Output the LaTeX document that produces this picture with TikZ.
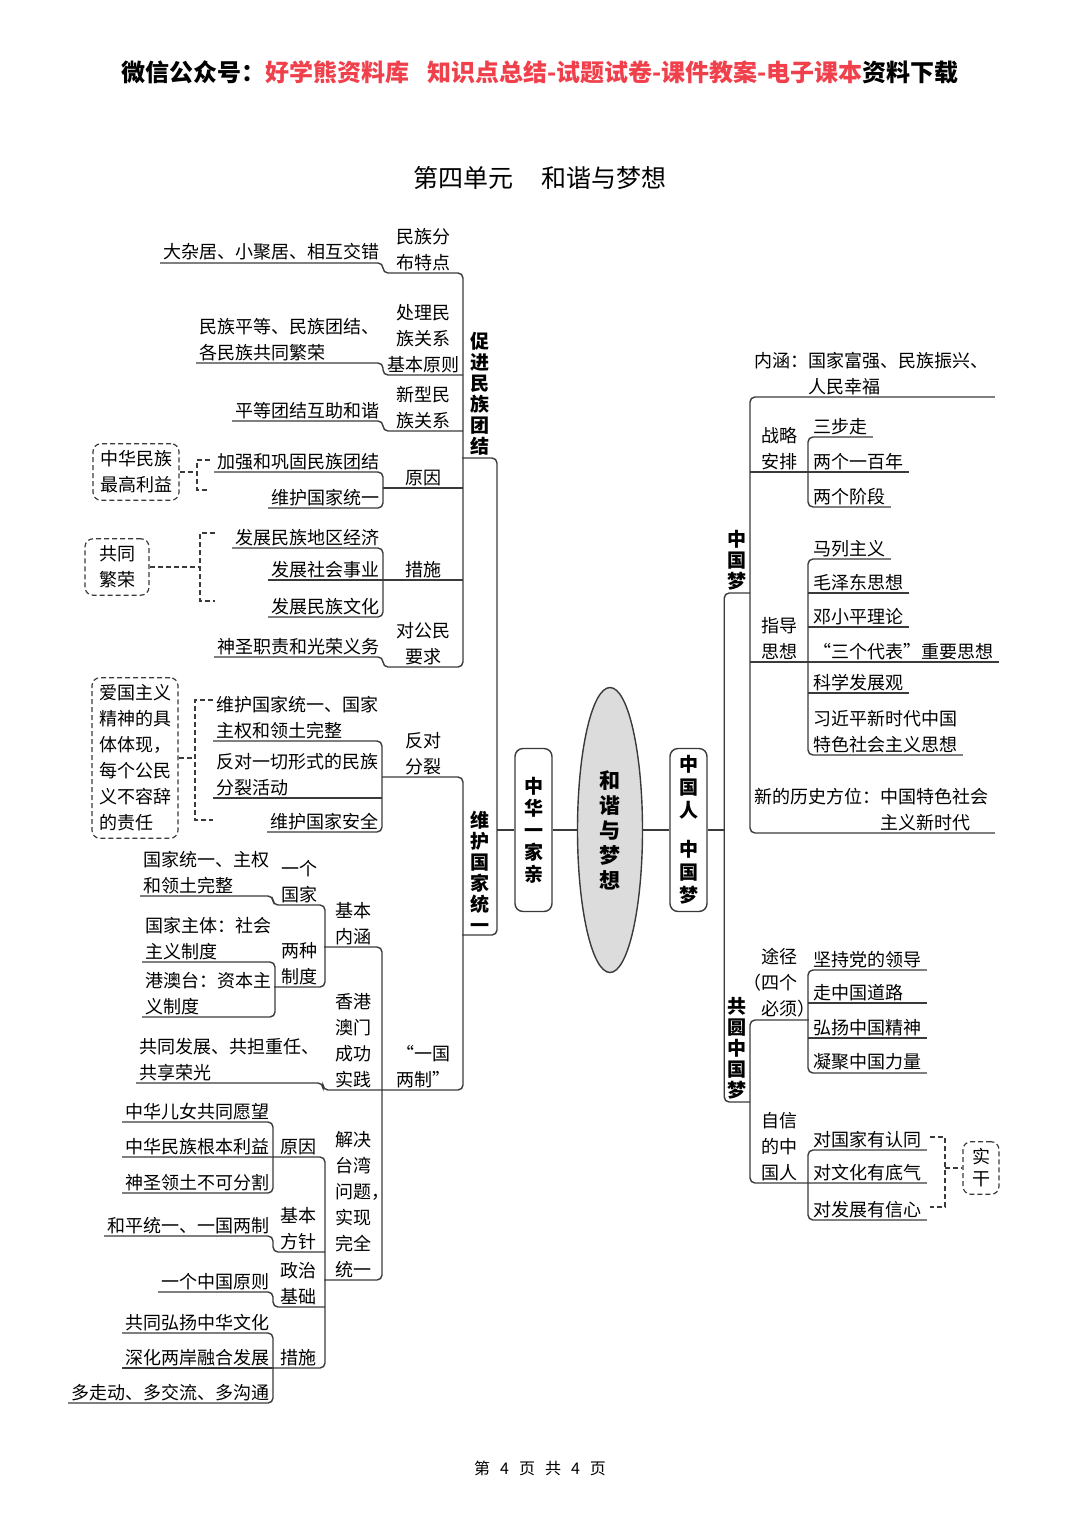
\documentclass[tikz,border=0pt]{standalone}
\usepackage{fontspec}
\setmainfont{Noto Sans CJK SC}
\usetikzlibrary{shapes.geometric}
\definecolor{hxRed}{HTML}{F0404C}
\definecolor{hxLine}{HTML}{3A3A3A}
\definecolor{hxFill}{HTML}{DCDCDC}

\begin{document}
\begin{tikzpicture}[x=0.5pt, y=-0.5pt,
    font=\fontsize{9}{13}\selectfont,
    lf/.style={anchor=south east, inner xsep=1.5pt, inner ysep=1pt, align=left},
    rl/.style={anchor=south west, inner xsep=2.5pt, inner ysep=1pt, align=left},
    lab/.style={anchor=south east, inner xsep=0pt, inner ysep=1pt, align=center, minimum width=#1},
    rlab/.style={anchor=south west, inner xsep=0pt, inner ysep=1pt, align=center, minimum width=#1},
    vt/.style={anchor=south east, font=\fontsize{9.5}{10.5}\selectfont\bfseries,
      inner xsep=0pt, inner ysep=1pt, align=center, minimum width=#1},
    ln/.style={draw=hxLine, line width=0.7pt, rounded corners=2.5pt},
    dsh/.style={draw=hxLine, line width=0.6pt, dash pattern=on 2.5pt off 1.5pt},
    dbox/.style={dsh, rounded corners=4pt, inner sep=3.5pt, align=left},
    cbox/.style={draw=hxLine, line width=0.7pt, rounded corners=4pt, minimum width=18.5pt,
      minimum height=81.5pt, inner sep=0pt, align=center, font=\fontsize{9.5}{11}\selectfont\bfseries}]
  \useasboundingbox (0,0) rectangle (1080,1527);
  % header, title, footer
  \node (hd) at (540,72) {\fontsize{12}{14}\selectfont\bfseries 微信公众号：\textcolor{hxRed}{好学熊资料库\hspace{9pt}知识点总结-试题试卷-课件教案-电子课本}资料下载};
  \node (tt) at (540,178) {\fontsize{12.5}{14}\selectfont 第四单元\hspace{14pt}和谐与梦想};
  \node (ft) at (540,1468) {\fontsize{8}{10}\selectfont 第\hspace{5pt}4\hspace{5pt}页\hspace{5pt}共\hspace{5pt}4\hspace{5pt}页};

  % centre
  \node[ellipse, draw=hxLine, line width=0.7pt, fill=hxFill, minimum width=32.5pt, minimum height=142.5pt,
    inner sep=0pt, align=center, font=\fontsize{10.5}{12.5}\selectfont\bfseries] (el) at (610,830) {和\\谐\\与\\梦\\想};
  \node[cbox] (hz) at (533.5,830) {中\\华\\一\\家\\亲};
  \node[cbox, font=\fontsize{9.5}{11.5}\selectfont\bfseries] (zr) at (688.5,830) {中\\国\\人\\[8pt]中\\国\\梦};

  % left side
  \node[vt=17pt] (pA) at (497,458) {促\\进\\民\\族\\团\\结};
  \node[vt=17pt] (pB) at (497,935) {维\\护\\国\\家\\统\\一};
  \foreach \nm/\yy/\tx in {a1/273/{民族分\\布特点}, a2/375/{处理民\\族关系\\基本原则}, a3/431/{新型民\\族关系},
      a4/488/原因, a5/580/措施, a6/667/{对公民\\要求}, d1/777/{反对\\分裂}, d2/1090/{“一国\\两制”}}
    \node[lab=39pt] (\nm) at (463,\yy) {\tx};
  \foreach \nm/\yy/\tx in {g1/947/{基本\\内涵}, g2/1090/{香港\\澳门\\成功\\实践}, g3/1280/{解决\\台湾\\问题\rlap{，}\\实现\\完全\\统一}}
    \node[lab=28.5pt] (\nm) at (382,\yy) {\tx};
  \foreach \nm/\yy/\tx in {h1/905/{一个\\国家}, h2/987/{两种\\制度}}
    \node[lab=25pt] (\nm) at (325,\yy) {\tx};
  \foreach \nm/\yy/\tx in {j1/1157/原因, j2/1252/{基本\\方针}, j3/1307/{政治\\基础}, j4/1368/措施}
    \node[lab=26pt] (\nm) at (325,\yy) {\tx};
  \foreach \nm/\xx/\yy/\tx in {b1/383/263/大杂居、小聚居、相互交错, b2/383/363/{民族平等、民族团结、\\各民族共同繁荣},
      b3/383/421/平等团结互助和谐, b4/383/472/加强和巩固民族团结, b5/383/508/维护国家统一,
      b6/383/548/发展民族地区经济, b7/383/580/发展社会事业, b8/383/617/发展民族文化, b9/383/657/神圣职责和光荣义务,
      e1/382/741/{维护国家统一、国家\\主权和领土完整}, e2/382/798/{反对一切形式的民族\\分裂活动}, e3/382/832/维护国家安全,
      i1/273/896/{国家统一、主权\\和领土完整}, i2/275/962/{国家主体：社会\\主义制度}, i3/275/1017/{港澳台：资本主\\义制度},
      i4/323/1083/{共同发展、共担重任、\\共享荣光},
      k1/273/1122/中华儿女共同愿望, k2/273/1157/中华民族根本利益, k3/273/1193/神圣领土不可分割,
      k4/273/1236/和平统一、一国两制, k5/273/1292/一个中国原则, k6/273/1333/共同弘扬中华文化,
      k7/273/1368/深化两岸融合发展, k8/273/1403/多走动、多交流、多沟通}
    \node[lf] (\nm) at (\xx,\yy) {\tx};

  % dashed notes, left
  \node[dbox] (f1) at (135,758) {爱国主义\\精神的具\\体体现，\\每个公民\\义不容辞\\的责任};
  \node[dbox] (f2) at (136,472) {中华民族\\最高利益};
  \node[dbox, inner xsep=7pt] (f3) at (117,567) {共同\\繁荣};
  \coordinate (f1j) at (195,758); \coordinate (f1a) at (213,700); \coordinate (f1b) at (213,820);
  \coordinate (f2j) at (197,472); \coordinate (f2a) at (210,460); \coordinate (f2b) at (210,490);
  \coordinate (f3j) at (200,567); \coordinate (f3a) at (215,533); \coordinate (f3b) at (215,601);

  % right side
  \node[vt=12.5pt] (m0) at (750,593) {中\\国\\梦};
  \node[vt=12.5pt] (q0) at (750,1102) {共\\圆\\中\\国\\梦};
  \node[rl, text width=118pt, inner xsep=2pt] (m1) at (750,397) {内涵：国家富强、民族振兴、\\\hspace*{3em}人民幸福};
  \node[rl, text width=118pt, inner xsep=2pt] (m4) at (750,833) {新的历史方位：中国特色社会\\\hspace*{7em}主义新时代};
  \foreach \nm/\yy/\tx in {m2/472/{战略\\安排}, m3/662/{指导\\思想}, q1/1020/{途径\\\llap{（}四个\\必须\rlap{）}}, q2/1183/{自信\\的中\\国人}}
    \node[rlab=29pt] (\nm) at (750,\yy) {\tx};
  \foreach \nm/\yy/\tx in {n1/437/三步走, n2/472/两个一百年, n3/507/两个阶段, n4/559/马列主义, n5/593/毛泽东思想,
      n6/627/邓小平理论, n7/662/“三个代表”重要思想, n8/693/科学发展观, n9/755/{习近平新时代中国\\特色社会主义思想}}
    \node[rl] (\nm) at (808,\yy) {\tx};
  \foreach \nm/\yy/\tx in {r1/970/坚持党的领导, r2/1003/走中国道路, r3/1038/弘扬中国精神, r4/1073/凝聚中国力量,
      r5/1150/对国家有认同, r6/1183/对文化有底气, r7/1220/对发展有信心}
    \node[rl, text width=54pt] (\nm) at (808,\yy) {\tx};
  \node[dbox, inner xsep=4.5pt, align=center, font=\fontsize{9}{11}\selectfont] (s1) at (981,1168) {实\\干};
  \coordinate (sj) at (945,1168); \coordinate (sa) at (930,1137); \coordinate (sb) at (930,1207);

  % trunk and centre
  \draw[ln] (pA.south west) -- (pA.south east) -- (pB.south east) -- (pB.south west);
  \draw[ln] (hz.west) -- (hz.west -| pA.south east);
  \draw[ln] (hz.east) -- (el.west);
  \draw[ln] (el.east) -- (zr.west);
  \draw[ln] (zr.east) -- (zr.east -| m0.south west);
  \draw[ln] (m0.south east) -- (m0.south west) -- (q0.south west) -- (q0.south east);

  % promote unity
  \draw[ln] (b1.south west) -- (b1.south east) |- (a1.south east) -- (a6.south east)
    -- (a6.south east -| b9.south east) |- (b9.south west);
  \draw[ln] (b2.south west) -- (b2.south east) |- (a2.south east);
  \draw[ln] (b3.south west) -- (b3.south east) |- (a3.south east);
  \draw[ln] (b4.south west) -- (b4.south east) -- (b5.south east) -- (b5.south west);
  \draw[ln] (b4.south east |- a4.south) -- (a4.south east);
  \draw[ln] (b6.south west) -- (b6.south east) -- (b8.south east) -- (b8.south west);
  \draw[ln] (b7.south west) -- (a5.south east);

  % national unity
  \draw[ln] (d1.south east -| e1.south east) -- (d1.south east) -- (d2.south east) -- (d2.south east -| g2.south east);
  \draw[ln] (e1.south west) -- (e1.south east) -- (e3.south east) -- (e3.south west);
  \draw[ln] (e2.south west) -- (e2.south east);
  \draw[ln] (g1.south west) -- (g1.south east) -- (g3.south east) -- (g3.south west);
  \draw[ln] (i4.south west) -- (i4.south east) |- (g2.south east);
  \draw[ln] (i1.south west) -- (i1.south east) |- (h1.south east) -- (h2.south east) -- (h2.south west);
  \draw[ln] (i2.south west) -- (i2.south east) -- (i3.south east) -- (i3.south west);
  \draw[ln] (k1.south west) -- (k1.south east) -- (k3.south east) -- (k3.south west);
  \draw[ln] (k2.south west) -- (j1.south east) -- (j4.south east) -- (j4.south west);
  \draw[ln] (k4.south west) -- (k4.south east) |- (j2.south east);
  \draw[ln] (k5.south west) -- (k5.south east) |- (j3.south east);
  \draw[ln] (k6.south west) -- (k6.south east) -- (k8.south east) -- (k8.south west);
  \draw[ln] (k7.south west) -- (k7.south east);

  % chinese dream
  \draw[ln] (m1.south east) -- (m1.south west) -- (m4.south west) -- (m4.south east);
  \draw[ln] (m2.south west) -- (n2.south east);
  \draw[ln] (m3.south west) -- (n7.south east);
  \draw[ln] (n1.south east) -- (n1.south west) -- (n3.south west) -- (n3.south east);
  \draw[ln] (n4.south east) -- (n4.south west) -- (n9.south west) -- (n9.south east);
  \foreach \nm in {n5,n6,n8,r2,r3}
    \draw[ln] (\nm.south west) -- (\nm.south east);
  \draw[ln] (q1.south east) -- (q1.south west) -- (q2.south west) -- (q2.south east) -- (r6.south east);
  \draw[ln] (r1.south east) -- (r1.south west) -- (r4.south west) -- (r4.south east);
  \draw[ln] (r5.south east) -- (r5.south west) -- (r7.south west) -- (r7.south east);

  % dashed links
  \draw[dsh] (f1a) -| (f1j) |- (f1b);  \draw[dsh] (f1.east) -- (f1j);
  \draw[dsh] (f2a) -| (f2j) |- (f2b);  \draw[dsh] (f2.east) -- (f2j);
  \draw[dsh] (f3a) -| (f3j) |- (f3b);  \draw[dsh] (f3.east) -- (f3j);
  \draw[dsh] (sa) -| (sj) |- (sb);     \draw[dsh] (sj) -- (s1.west);
\end{tikzpicture}
\end{document}
